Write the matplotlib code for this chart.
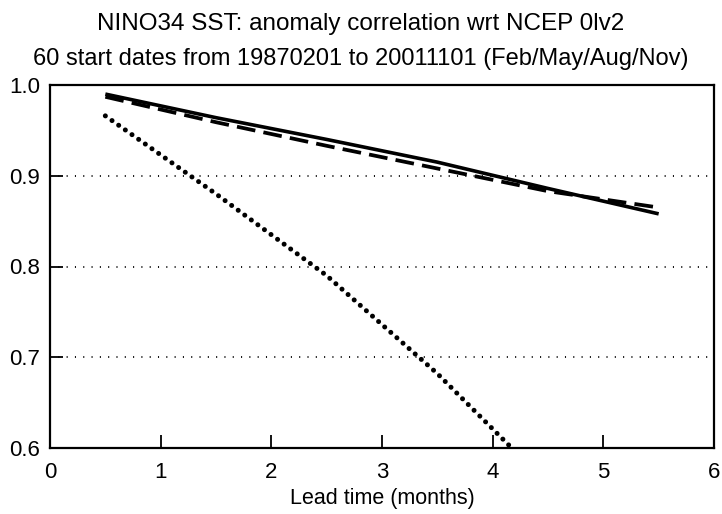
import matplotlib
matplotlib.use("Agg")
import matplotlib.pyplot as plt

lead = [0.5, 1.5, 2.5, 3.5, 4.5, 5.5]
solid_vals = [0.990, 0.964, 0.940, 0.915, 0.886, 0.858]
dashed_vals = [0.987, 0.959, 0.933, 0.908, 0.883, 0.865]
dotted_vals = [0.966, 0.880, 0.790, 0.682, 0.560, 0.450]
xticks = [0, 1, 2, 3, 4, 5, 6]
yticks = [0.6, 0.7, 0.8, 0.9, 1.0]
grid_y = [0.7, 0.8, 0.9]

plt.rcParams['font.family'] = ['Liberation Sans', 'DejaVu Sans']

fig = plt.figure(figsize=(7.22, 5.14), dpi=100)
ax = fig.add_axes([50/722, 66/514, 664/722, 363/514])

for g in grid_y:
    ax.axhline(g, color='black', lw=1.3, linestyle=(0, (0.6, 4.0)), zorder=1)

ax.plot(lead, solid_vals, color='black', lw=2.6, solid_capstyle='butt', zorder=3)
ax.plot(lead, dashed_vals, color='black', lw=2.7, linestyle=(0, (5.0, 2.2)),
        dash_capstyle='butt', zorder=3)
ax.plot(lead, dotted_vals, color='black', lw=3.6, linestyle=(0, (0.01, 1.62)),
        dash_capstyle='round', zorder=3)

ax.set_xlim(0, 6)
ax.set_ylim(0.6, 1.0)
ax.set_xticks(xticks)
ax.set_xticklabels([str(t) for t in xticks])
ax.set_yticks(yticks)
ax.set_yticklabels([f"{t:.1f}" for t in yticks])
ax.tick_params(direction='in', length=9.5, width=1.3, labelsize=16,
               top=False, right=False)
ax.tick_params(axis='x', pad=10)
ax.tick_params(axis='y', pad=7)
for s in ax.spines.values():
    s.set_linewidth(1.6)

ax.set_xlabel("Lead time (months)", fontsize=15.5, labelpad=4)
fig.text(0.5, 1 - 24/514, "NINO34 SST: anomaly correlation wrt NCEP 0lv2",
         ha='center', va='center', fontsize=17.5)
fig.text(0.5, 1 - 59/514, "60 start dates from 19870201 to 20011101 (Feb/May/Aug/Nov)",
         ha='center', va='center', fontsize=17)

fig.savefig("out.png", dpi=100)
